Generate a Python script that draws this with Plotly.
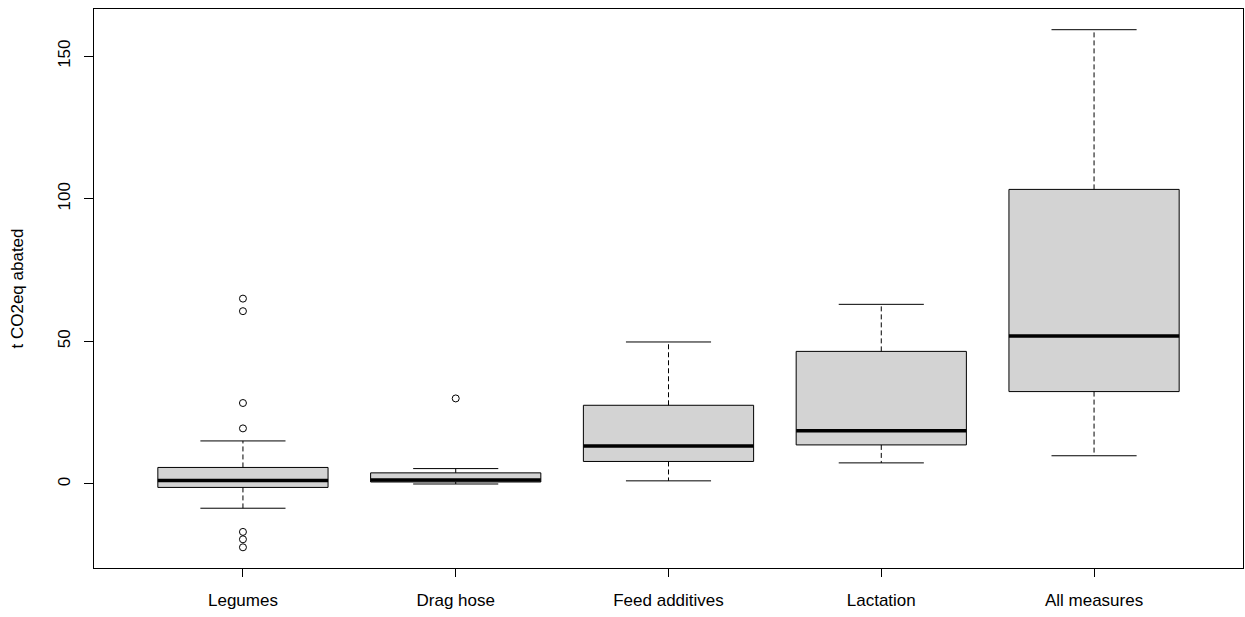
import plotly.graph_objects as go

categories = ["Legumes", "Drag hose", "Feed additives", "Lactation", "All measures"]
lower_whisker = [-8.5, 0.0, 1.1, 7.4, 9.9]
q1 = [-1.2, 0.7, 7.9, 13.7, 32.4]
median = [1.2, 1.4, 13.3, 18.7, 51.9]
q3 = [5.8, 3.9, 27.6, 46.5, 103.3]
upper_whisker = [15.1, 5.4, 49.8, 63.0, 159.3]
outliers = [
    [65.0, 60.6, 28.4, 19.5, -16.8, -19.4, -22.2],
    [30.0],
    [],
    [],
    [],
]

box_w = 0.8
cap_w = 0.4
fill = "#d3d3d3"
ink = "#000000"

fig = go.Figure()
for i, cat in enumerate(categories):
    x = i + 1
    # box
    fig.add_trace(go.Scatter(
        x=[x - box_w / 2, x + box_w / 2, x + box_w / 2, x - box_w / 2, x - box_w / 2],
        y=[q1[i], q1[i], q3[i], q3[i], q1[i]],
        mode="lines", fill="toself", fillcolor=fill,
        line=dict(color=ink, width=1), hoverinfo="skip", showlegend=False))
    # median
    fig.add_trace(go.Scatter(
        x=[x - box_w / 2, x + box_w / 2], y=[median[i], median[i]],
        mode="lines", line=dict(color=ink, width=3.5), showlegend=False, hoverinfo="skip"))
    # whiskers (dashed)
    fig.add_trace(go.Scatter(
        x=[x, x, None, x, x], y=[q3[i], upper_whisker[i], None, q1[i], lower_whisker[i]],
        mode="lines", line=dict(color=ink, width=1, dash="5px,3px"),
        showlegend=False, hoverinfo="skip"))
    # caps
    fig.add_trace(go.Scatter(
        x=[x - cap_w / 2, x + cap_w / 2, None, x - cap_w / 2, x + cap_w / 2],
        y=[upper_whisker[i], upper_whisker[i], None, lower_whisker[i], lower_whisker[i]],
        mode="lines", line=dict(color=ink, width=1), showlegend=False, hoverinfo="skip"))
    # outliers
    if outliers[i]:
        fig.add_trace(go.Scatter(
            x=[x] * len(outliers[i]), y=outliers[i], mode="markers",
            marker=dict(symbol="circle-open", size=7, color=ink, line=dict(width=1)),
            showlegend=False))

all_vals = lower_whisker + upper_whisker + [v for o in outliers for v in o]
lo, hi = min(all_vals), max(all_vals)
pad = 0.04 * (hi - lo)

font = dict(family="Liberation Sans, Arial, sans-serif", size=17, color="#000000")

fig.update_layout(
    width=1245, height=617,
    margin=dict(l=94, r=2, t=9, b=49),
    plot_bgcolor="white", paper_bgcolor="white",
    font=font,
    showlegend=False,
    xaxis=dict(
        range=[0.3, 5.7], tickvals=[1, 2, 3, 4, 5], ticktext=categories,
        showgrid=False, zeroline=False, showline=True, linecolor="#000000", linewidth=1,
        mirror=True, ticks="outside", ticklen=8, tickcolor="#000000",
        ticklabelstandoff=9, tickfont=font),
    yaxis=dict(
        range=[lo - pad, hi + pad], tickvals=[0, 50, 100, 150],
        showgrid=False, zeroline=False, showline=True, linecolor="#000000", linewidth=1,
        mirror=True, ticks="outside", ticklen=9, tickcolor="#000000",
        ticklabelstandoff=7, tickangle=-90, tickfont=font),
    annotations=[dict(
        text="t CO2eq abated", xref="paper", yref="paper", x=0, y=0.5,
        xanchor="center", yanchor="middle", xshift=-77, textangle=-90,
        showarrow=False, font=font)],
)

fig.write_html("out.html")
